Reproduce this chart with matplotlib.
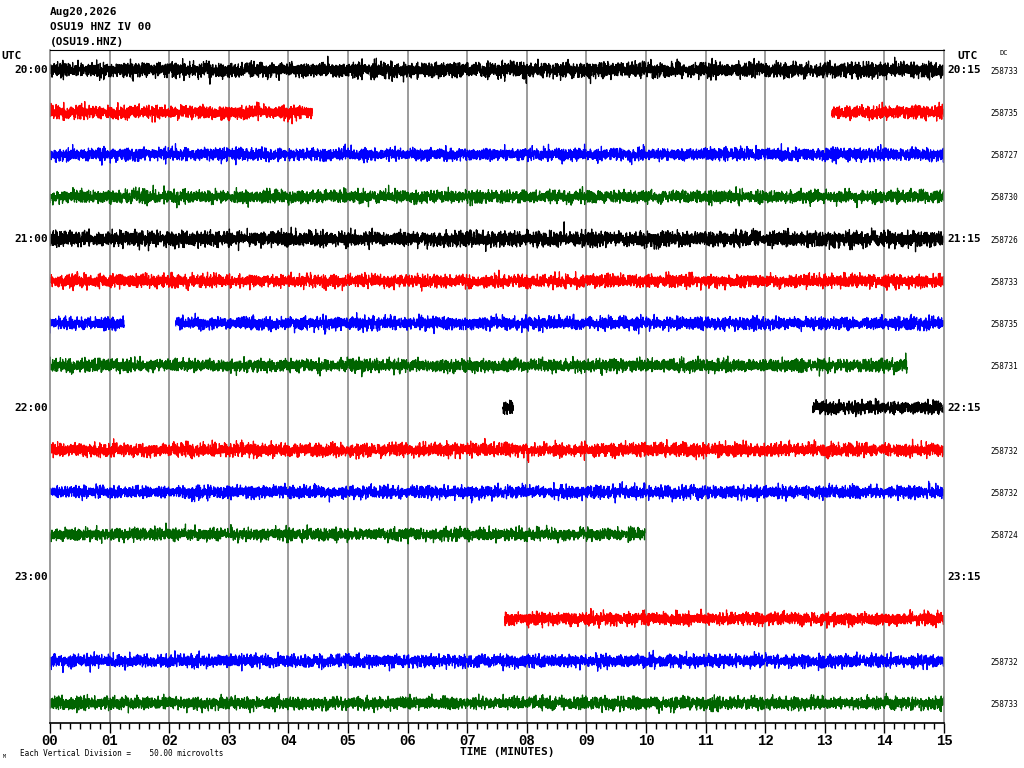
import numpy as np
import matplotlib
matplotlib.use('Agg')
import matplotlib.pyplot as plt
from matplotlib.transforms import blended_transform_factory

# header text
TITLE_LINES = ['Aug20,2026', 'OSU19 HNZ IV 00', '(OSU19.HNZ)']

# one row per 15 minutes, 20:00 to 23:45 UTC
ROW_COLORS = ['black', 'red', 'blue', '#006400'] * 4
LEFT_LABELS = {0: '20:00', 4: '21:00', 8: '22:00', 12: '23:00'}
RIGHT_LABELS = {0: '20:15', 4: '21:15', 8: '22:15', 12: '23:15'}
DC_VALUES = ['258733', '258735', '258727', '258730',
             '258726', '258733', '258735', '258731',
             '', '258732', '258732', '258724',
             '', '', '258732', '258733']

# recorded data segments per row (start, end) in minutes
SEGMENTS = [
    [(0.0, 15.0)],
    [(0.0, 4.40), (13.12, 15.0)],
    [(0.0, 15.0)],
    [(0.0, 15.0)],
    [(0.0, 15.0)],
    [(0.0, 15.0)],
    [(0.0, 1.24), (2.11, 15.0)],
    [(0.0, 14.38)],
    [(7.60, 7.77), (12.80, 15.0)],
    [(0.03, 15.0)],
    [(0.0, 15.0)],
    [(0.0, 9.98)],
    [],
    [(7.63, 15.0)],
    [(0.0, 15.0)],
    [(0.0, 15.0)],
]
# noise level of each row, in row spacings
NOISE_LEVEL = [0.085, 0.075, 0.07, 0.07,
               0.085, 0.072, 0.07, 0.07,
               0.07, 0.075, 0.07, 0.07,
               0.07, 0.07, 0.07, 0.07]

SAMPLES_PER_MIN = 400

fig = plt.figure(figsize=(10.24, 7.68), dpi=100)
ax = fig.add_axes([50 / 1024, (768 - 723) / 768, 894 / 1024, 673 / 768])

rng = np.random.default_rng(19)  # texture of the background noise only
for row, segs in enumerate(SEGMENTS):
    for start, end in segs:
        n = max(int((end - start) * SAMPLES_PER_MIN), 10)
        t = np.linspace(start, end, n)
        y = rng.normal(0, NOISE_LEVEL[row], n)
        ax.plot(t, row + y, color=ROW_COLORS[row], lw=0.9)

ax.set_xlim(0, 15)
ax.set_ylim(15.47, -0.474)

for m in range(1, 15):
    ax.axvline(m, color='#808080', lw=1.1, zorder=0)

for side in ['left', 'right']:
    ax.spines[side].set_color('#808080')
    ax.spines[side].set_linewidth(1.1)
ax.spines['top'].set_color('black')
ax.spines['bottom'].set_color('black')
ax.spines['bottom'].set_linewidth(1.2)

ax.set_yticks([])
ax.set_xticks(range(16))
ax.set_xticks(np.arange(0, 15, 1 / 6), minor=True)
ax.set_xticklabels(['%02d' % m for m in range(16)],
                   family='Liberation Mono', fontweight='bold', fontsize=10)
ax.tick_params(axis='x', which='major', direction='out', length=7, width=1, pad=1)
ax.tick_params(axis='x', which='minor', direction='out', length=4.5, width=1)

mono = 'DejaVu Sans Mono'
for i, line in enumerate(TITLE_LINES):
    fig.text(50 / 1024, 1 - (12 + 15 * i) / 768, line, family=mono,
             fontweight='bold', fontsize=8, va='center', ha='left')

fig.text(1 / 1024, 1 - 56 / 768, 'UTC', family=mono, fontweight='bold',
         fontsize=8, va='center', ha='left')
fig.text(968 / 1024, 1 - 56 / 768, 'UTC', family=mono, fontweight='bold',
         fontsize=8, va='center', ha='center')
fig.text(1004 / 1024, 1 - 53 / 768, 'DC', family=mono, fontsize=5,
         va='center', ha='center')

tr = blended_transform_factory(fig.transFigure, ax.transData)
for row, lab in LEFT_LABELS.items():
    ax.text(48 / 1024, row, lab, transform=tr, family=mono, fontweight='bold',
            fontsize=8, va='center', ha='right')
for row, lab in RIGHT_LABELS.items():
    ax.text(947 / 1024, row, lab, transform=tr, family=mono, fontweight='bold',
            fontsize=8, va='center', ha='left')
for row, dc in enumerate(DC_VALUES):
    if dc:
        ax.text(990 / 1024, row + 0.03, dc, transform=tr, family=mono,
                fontsize=5.5, va='center', ha='left')

fig.text(507 / 1024, 1 - 752 / 768, 'TIME (MINUTES)', family=mono,
         fontweight='bold', fontsize=8, va='center', ha='center')
fig.text(20 / 1024, 1 - 754 / 768, 'Each Vertical Division =    50.00 microvolts',
         family=mono, fontsize=5.5, va='center', ha='left')
fig.text(3 / 1024, 1 - 757 / 768, 'M', family=mono, fontsize=3.5,
         va='center', ha='left')

fig.savefig('out.png', dpi=100)
